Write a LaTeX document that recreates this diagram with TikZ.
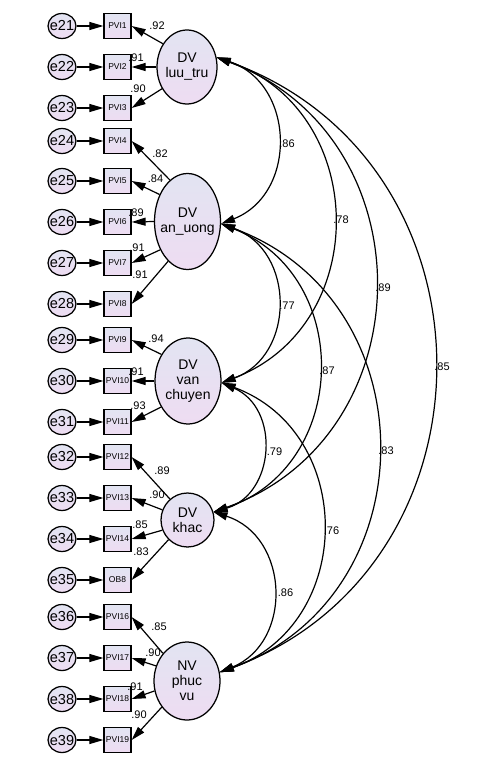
\documentclass[tikz,border=0pt]{standalone}
\usepackage{fontspec}
\setmainfont{Liberation Sans}
\usetikzlibrary{shapes.geometric,arrows.meta}
\definecolor{fillA}{RGB}{226,228,242}
\definecolor{fillB}{RGB}{238,220,242}
\begin{document}
\begin{tikzpicture}[x=1pt,y=-1pt,
  shade/.style={top color=fillA, bottom color=fillB},
  lat/.style={ellipse, draw, line width=1.25pt, shade, inner sep=0pt},
  lattext/.style={font=\fontsize{14}{15}\selectfont, align=center, inner sep=0pt},
  err/.style={ellipse, draw, line width=1.25pt, shade, minimum width=28pt, minimum height=25pt, inner sep=0pt},
  errtext/.style={font=\fontsize{14.5}{15}\selectfont, inner sep=0pt},
  obs/.style={rectangle, draw, line width=1.25pt, shade, minimum width=27pt, minimum height=25pt, inner sep=0pt, font=\fontsize{8.5}{9}\selectfont},
  arr/.style={line width=1.2pt, -{Triangle[length=14pt,width=8pt]}},
  cov/.style={line width=1.2pt, {Triangle[length=14pt,width=8pt]}-{Triangle[length=14pt,width=8pt]}, bend left=70, looseness=1.27},
  coef/.style={font=\fontsize{11}{12}\selectfont, inner sep=0pt},
]
\fill[white] (0,0) rectangle (482,762);
\useasboundingbox (0,0) rectangle (482,762);

% latent variables
\node[lat, minimum width=60pt, minimum height=74pt, label={[lattext]center:DV\\luu\_tru}] (L1) at (187,67) {};
\node[lat, minimum width=66pt, minimum height=96pt, label={[lattext]center:DV\\an\_uong}] (L2) at (187.5,221.5) {};
\node[lat, minimum width=66pt, minimum height=86pt, label={[lattext]center:DV\\van\\chuyen}] (L3) at (188,381) {};
\node[lat, minimum width=53pt, minimum height=54pt, label={[lattext]center:DV\\khac}] (L4) at (187.5,520) {};
\node[lat, minimum width=66pt, minimum height=78pt, label={[lattext]center:NV\\phuc\\vu}] (L5) at (187,681) {};

% errors and observed
\foreach \n/\y/\t in {21/26/PVI1, 22/67/PVI2, 23/108/PVI3, 24/141/PVI4, 25/181/PVI5,
  26/222/PVI6, 27/263/PVI7, 28/304/PVI8, 29/340/PVI9, 30/381/PVI10, 31/422/PVI11,
  32/457/PVI12, 33/498/PVI13, 34/539/PVI14, 35/580/OB8, 36/617/PVI16, 37/658/PVI17,
  38/699/PVI18, 39/740/PVI19} {
  \node[err, label={[errtext]center:e\n}] (e\n) at (62,\y) {};
  \node[obs] (o\n) at (117.5,\y) {\t};
  \draw[arr] (e\n) -- (o\n);
}

% loadings
\draw[arr] (L1.136) -- (o21.east);
\draw[arr] (L1.180) -- (o22.east);
\draw[arr] (L1.221) -- (o23.east);
\draw[arr] (L2.113) -- (o24.east);
\draw[arr] (L2.136) -- (o25.east);
\draw[arr] (L2.180) -- (o26.east);
\draw[arr] (L2.226) -- (o27.east);
\draw[arr] (L2.244) -- (o28.east);
\draw[arr] (L3.135) -- (o29.east);
\draw[arr] (L3.180) -- (o30.east);
\draw[arr] (L3.224) -- (o31.east);
\draw[arr] (L4.130) -- (o32.east);
\draw[arr] (L4.158) -- (o33.east);
\draw[arr] (L4.202) -- (o34.east);
\draw[arr] (L4.226) -- (o35.east);
\draw[arr] (L5.131) -- (o36.east);
\draw[arr] (L5.154) -- (o37.east);
\draw[arr] (L5.197) -- (o38.east);
\draw[arr] (L5.226) -- (o39.east);

% loading labels
\node[coef] (c21) at (157,26) {.92};
\node[coef] (c22) at (136,58) {.91};
\node[coef] (c23) at (138,89) {.90};
\node[coef] (c24) at (160,154) {.82};
\node[coef] (c25) at (155.5,179) {.84};
\node[coef] (c26) at (136,213) {.89};
\node[coef] (c27) at (137,248) {.91};
\node[coef] (c28) at (140,275) {.91};
\node[coef] (c29) at (156,339) {.94};
\node[coef] (c30) at (136,372) {.91};
\node[coef] (c31) at (138,406) {.93};
\node[coef] (c32) at (162,471) {.89};
\node[coef] (c33) at (157,495) {.90};
\node[coef] (c34) at (140,525) {.85};
\node[coef] (c35) at (141,552) {.83};
\node[coef] (c36) at (159,627) {.85};
\node[coef] (c37) at (153,653) {.90};
\node[coef] (c38) at (135,687) {.91};
\node[coef] (c39) at (139,715) {.90};

% covariances
\draw[cov] (L1.18) to (L2.-4);
\draw[cov] (L1.18) to (L3.-3);
\draw[cov] (L1.18) to (L4.17);
\draw[cov] (L1.18) to (L5.15);
\draw[cov] (L2.-4) to (L3.-3);
\draw[cov] (L2.-4) to (L4.17);
\draw[cov] (L2.-4) to (L5.15);
\draw[cov] (L3.-3) to (L4.17);
\draw[cov] (L3.-3) to (L5.15);
\draw[cov] (L4.17) to (L5.15);

% covariance labels
\node[coef] (k12) at (287,144) {.86};
\node[coef] (k13) at (341,220) {.78};
\node[coef] (k14) at (383,288) {.89};
\node[coef] (k15) at (442,367) {.85};
\node[coef] (k23) at (287,306) {.77};
\node[coef] (k24) at (327,371) {.87};
\node[coef] (k25) at (386,451) {.83};
\node[coef] (k34) at (274.5,452) {.79};
\node[coef] (k35) at (331.5,531) {.76};
\node[coef] (k45) at (285.5,593) {.86};
\end{tikzpicture}
\end{document}
